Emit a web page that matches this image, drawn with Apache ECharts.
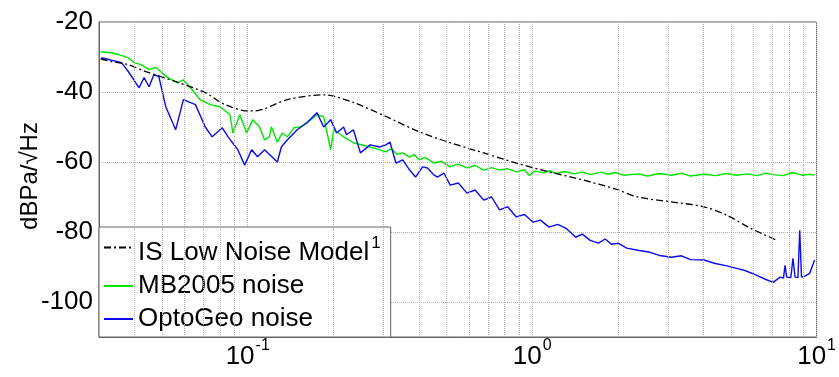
<!DOCTYPE html>
<html>
<head>
<meta charset="utf-8">
<script src="https://cdn.jsdelivr.net/npm/echarts@6/dist/echarts.min.js"></script>
<style>
  html, body { margin: 0; padding: 0; background: #fff; }
  #app { width: 839px; height: 377px; }
</style>
</head>
<body>
<div id="app"></div>
<script>
// frequency (Hz) / level (dBPa/sqrt(Hz))
var isFreq = [0.0304, 0.0332, 0.038, 0.0439, 0.0558, 0.0709, 0.0832, 0.1, 0.1057, 0.1377, 0.185, 0.2353, 0.3063, 0.4018, 0.5152, 0.6761, 0.8795, 1.146, 1.503, 1.958, 2.354, 3.09, 4.018, 4.83, 5.848, 7.211];
var isLevel = [-30.5, -31.3, -32.2, -34.2, -37, -40.2, -43.6, -45.4, -45.4, -42.2, -40.8, -43, -47, -51.4, -54.5, -57.4, -60.3, -62.8, -65.1, -67.7, -70, -71.4, -72.8, -75.2, -78.9, -82.3];

var mbFreq = [0.0304, 0.0332, 0.0351, 0.038, 0.0399, 0.0422, 0.045, 0.0475, 0.0524, 0.0567, 0.0594, 0.0629, 0.0681, 0.0738, 0.08, 0.0866, 0.0887, 0.0938, 0.0992, 0.1041, 0.1101, 0.1146, 0.1192, 0.1211, 0.1271, 0.1323, 0.1377, 0.1456, 0.154, 0.1668, 0.175, 0.185, 0.1957, 0.2005, 0.2173, 0.2353, 0.2696,
  0.3063, 0.32, 0.335, 0.3508, 0.37, 0.385, 0.4018, 0.42, 0.4529, 0.48, 0.5152, 0.55, 0.5902, 0.63, 0.6761, 0.72, 0.7678, 0.82, 0.8795, 0.94, 0.9772, 1.02, 1.1, 1.146, 1.22, 1.3, 1.4, 1.503, 1.6, 1.75, 1.85, 1.958, 2.1, 2.354, 2.55, 2.8, 3.09, 3.35, 3.6, 4.018, 4.4, 4.8, 5.236, 5.7, 6.2, 6.6, 7.031, 7.6, 8.26, 8.93, 9.4, 9.84];
var mbLevel = [-28.5, -28.8, -29.3, -30.2, -31.6, -32.2, -33.6, -33, -35.9, -37.4, -36.5, -38.8, -42.2, -43.6, -44.2, -46.5, -51.7, -46.5, -51.7, -47.9, -50, -53.7, -52.8, -49.9, -54.3, -51.7, -52.8, -50.2, -49.9, -47.9, -46.5, -47.1, -56.5, -50.8, -52.8, -54.5, -55.7,
  -57.1, -56.2, -57.8, -57.4, -58.6, -57.9, -59.4, -58.7, -60.3, -59.8, -61.4, -60.6, -61.7, -61.0, -62.3, -61.6, -62.3, -61.9, -62.8, -62.2, -63.9, -62.6, -63.1, -62.5, -63.3, -62.7, -63.4, -62.9, -63.6, -62.9, -63.5, -63.0, -63.8, -63.4, -64.0, -63.3, -63.8, -63.2, -64.0, -63.5, -63.9, -63.3, -63.8, -63.4, -63.9, -63.2, -63.6, -63.9, -63.0, -63.8, -63.5, -63.7];

var ogFreq = [0.0306, 0.036, 0.0383, 0.0415, 0.0432, 0.045, 0.0468, 0.0487, 0.0515, 0.0558, 0.0594, 0.0655, 0.0709, 0.075, 0.0813, 0.0853, 0.0923, 0.0976, 0.1032, 0.1083, 0.1146, 0.1271, 0.1313, 0.1377, 0.1493, 0.1616, 0.175, 0.185, 0.1957, 0.2054, 0.2173, 0.2224, 0.2353, 0.2489, 0.2696, 0.2919, 0.3063, 0.3162, 0.3319, 0.3508, 0.3709, 0.389, 0.4118,
  0.4285, 0.45, 0.4642, 0.49, 0.5152, 0.55, 0.5902, 0.63, 0.6761, 0.72, 0.7678, 0.82, 0.8795, 0.94, 1.008, 1.07, 1.146, 1.23, 1.312, 1.36, 1.422, 1.5, 1.6, 1.709, 1.806, 1.9, 2.005, 2.15, 2.354, 2.6, 2.8, 3.09, 3.35, 3.6, 4.018, 4.4, 4.8, 5.236, 5.6, 6.138, 6.6, 7.031,
  7.447, 7.65, 7.745, 7.85, 8.12, 8.257, 8.4, 8.6, 8.724, 8.85, 9.1, 9.46, 9.84];
var ogLevel = [-30.2, -31.6, -34.5, -38.8, -35.9, -38.5, -35, -35.6, -44.2, -50.8, -42.2, -43.6, -50, -52.8, -50.2, -52.8, -56.5, -60.9, -56.5, -58.5, -56.5, -60, -55.7, -53.7, -50.8, -48.8, -45.9, -50, -47.9, -51.7, -50, -52.2, -50.8, -57.4, -55.1, -55.7, -55.1, -54.3, -60.3, -59.4, -62.3, -64.3, -61.4,
  -61.7, -63.6, -64.3, -63.2, -66.6, -66.0, -68.9, -68.0, -70.9, -70.0, -73.7, -72.8, -75.7, -75.0, -77.2, -76.6, -78.6, -77.8, -78.9, -80.0, -81.5, -80.6, -82.4, -83.2, -82.0, -83.5, -83.2, -84.6, -85.2, -85.8, -86.7, -87.2, -86.8, -87.9, -88.0, -89.0, -89.6, -90.4, -91.0, -92.3, -93.5, -94.4,
  -92.9, -93.2, -89.5, -92.9, -93.0, -87.5, -92.9, -93.0, -79.5, -92.9, -92.6, -91.8, -88];

var minorGrid = [0.04, 0.05, 0.06, 0.07, 0.08, 0.09, 0.2, 0.3, 0.4, 0.5, 0.6, 0.7, 0.8, 0.9, 2, 3, 4, 5, 6, 7, 8, 9];
var yTicks = [-100, -80, -60, -40, -20];

function pairs(xs, ys) {
  return xs.map(function (x, i) { return [x, ys[i]]; });
}

var font = "'Liberation Sans', Arial, sans-serif";
var gridColor = '#b4b4b4';
var frameColor = '#666';
var chart = echarts.init(document.getElementById('app'));

chart.setOption({
  animation: false,
  backgroundColor: '#fff',
  textStyle: { fontFamily: font },
  grid: {
    left: 99, right: 16, top: 22, bottom: 40,
    show: true, borderColor: frameColor, borderWidth: 1
  },
  legend: {
    orient: 'vertical',
    left: 99, top: 227,
    backgroundColor: '#fff',
    borderColor: frameColor, borderWidth: 1, borderRadius: 0,
    padding: [2, 10, 5, 4],
    itemGap: 7,
    itemWidth: 29, itemHeight: 14,
    itemTextGap: 3,
    itemStyle: { opacity: 0 },
    textStyle: {
      fontSize: 26, lineHeight: 26, color: '#000', fontFamily: font,
      rich: {
        n: { fontSize: 26, lineHeight: 26, color: '#000', fontFamily: font, padding: [11, 0, 0, 0] },
        s: { fontSize: 17, lineHeight: 17, color: '#000', fontFamily: font, verticalAlign: 'top', padding: [0, 0, 0, 2] }
      }
    },
    formatter: function (name) {
      return name === 'IS Low Noise Model' ? '{n|' + name + '}{s|1}' : name;
    },
    data: ['IS Low Noise Model', 'MB2005 noise', 'OptoGeo noise']
  },
  xAxis: {
    type: 'log', logBase: 10, min: 0.03, max: 10,
    axisLine: { show: true, lineStyle: { color: frameColor } },
    axisTick: { show: false },
    axisLabel: {
      margin: 1,
      formatter: function (v) {
        var p = Math.log10(v);
        if (Math.abs(p - Math.round(p)) > 1e-6) return '';
        return '{b|10}{s|' + Math.round(p) + '}';
      },
      rich: {
        b: { fontSize: 26, lineHeight: 26, color: '#000', fontFamily: font, padding: [11, 0, 0, 0] },
        s: { fontSize: 16, lineHeight: 16, color: '#000', fontFamily: font, verticalAlign: 'top', padding: [0, 0, 0, 1] }
      }
    },
    splitLine: { show: true, lineStyle: { type: 'dotted', color: gridColor } }
  },
  yAxis: {
    type: 'value', min: -110, max: -20, interval: 10,
    name: 'dBPa/√Hz', nameLocation: 'middle', nameGap: 57, nameMoveOverlap: false,
    nameTextStyle: { fontSize: 24, color: '#000', fontFamily: font, padding: [0, 0, 0, 7] },
    axisLine: { show: true, lineStyle: { color: frameColor } },
    axisTick: { show: false },
    axisLabel: {
      fontSize: 26, color: '#000', margin: 6,
      formatter: function (v) { return yTicks.indexOf(v) >= 0 ? String(v) : ''; }
    },
    splitLine: { show: true, lineStyle: { type: 'dotted', color: ['transparent', gridColor] } }
  },
  series: [
    {
      name: 'IS Low Noise Model', type: 'line', symbol: 'none', smooth: 0.3,
      data: pairs(isFreq, isLevel),
      lineStyle: { color: '#000', width: 1.3, type: [7, 3, 2, 3] },
      itemStyle: { color: '#000' },
      z: 4,
      markLine: {
        silent: true, symbol: ['none', 'none'], label: { show: false },
        lineStyle: { type: 'dotted', color: gridColor, width: 1 },
        data: minorGrid.map(function (f) { return { xAxis: f }; })
      }
    },
    {
      name: 'MB2005 noise', type: 'line', symbol: 'none',
      data: pairs(mbFreq, mbLevel),
      lineStyle: { color: '#00e600', width: 1.4 },
      itemStyle: { color: '#00e600' },
      z: 3
    },
    {
      name: 'OptoGeo noise', type: 'line', symbol: 'none',
      data: pairs(ogFreq, ogLevel),
      lineStyle: { color: '#0a0af0', width: 1.4 },
      itemStyle: { color: '#0a0af0' },
      z: 3
    }
  ]
});
</script>
</body>
</html>
